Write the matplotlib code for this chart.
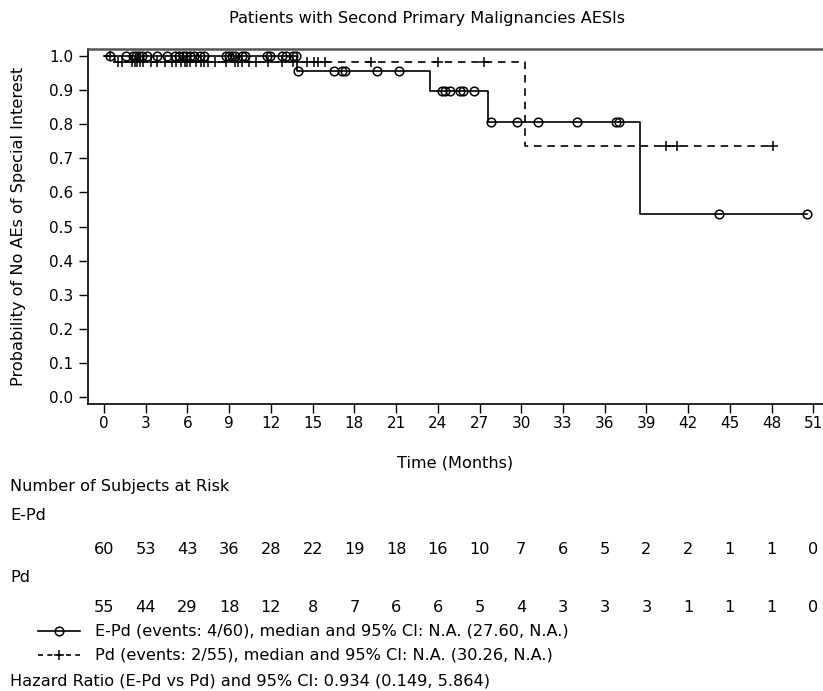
import numpy as np
import matplotlib
matplotlib.use('Agg')
import matplotlib.pyplot as plt
from matplotlib.lines import Line2D
from matplotlib.transforms import blended_transform_factory

# step curves (event times in months, survival after each event)
epd_event_t = [0, 13.86, 23.45, 27.60, 38.56]
epd_surv = [1.0, 0.956, 0.897, 0.807, 0.538]
epd_end = 50.55
epd_censor = [0.4, 1.6, 2.1, 2.3, 2.5, 2.7, 3.1, 3.8, 4.5, 5.1, 5.4, 5.7, 5.9, 6.2,
              6.5, 6.9, 7.2, 8.8, 9.0, 9.2, 9.4, 9.9, 10.1, 11.7, 11.9, 12.8, 13.1,
              13.6, 13.8, 13.95, 16.5, 17.1, 17.3, 19.6, 21.2, 24.3, 24.5, 24.9,
              25.6, 25.8, 26.6, 27.8, 29.7, 31.2, 34.0, 36.8, 37.0, 44.2, 50.55]

pd_event_t = [0, 0.8, 30.26]
pd_surv = [1.0, 0.982, 0.736]
pd_end = 48.1
pd_censor = [0.4, 1.0, 1.3, 2.0, 2.2, 2.4, 2.6, 2.8, 3.4, 3.8, 4.4, 4.9, 5.2, 5.5,
             5.8, 6.0, 6.2, 6.6, 7.0, 7.2, 7.5, 8.0, 8.8, 9.4, 9.6, 9.9, 10.4, 10.9,
             11.8, 12.8, 13.6, 14.6, 15.1, 15.4, 15.9, 19.2, 24.0, 27.3, 40.4, 41.2,
             48.1]

risk_times = list(range(0, 52, 3))
risk_epd = [60, 53, 43, 36, 28, 22, 19, 18, 16, 10, 7, 6, 5, 2, 2, 1, 1, 0]
risk_pd = [55, 44, 29, 18, 12, 8, 7, 6, 6, 5, 4, 3, 3, 3, 1, 1, 1, 0]

lab_epd = 'E-Pd (events: 4/60), median and 95% CI: N.A. (27.60, N.A.)'
lab_pd = 'Pd (events: 2/55), median and 95% CI: N.A. (30.26, N.A.)'
hr_text = 'Hazard Ratio (E-Pd vs Pd) and 95% CI: 0.934 (0.149, 5.864)'

plt.rcParams['font.family'] = 'DejaVu Sans'
fs = 11.6
W, H = 823, 691


def step_xy(t, s, end):
    x = list(t) + [end]
    y = list(s) + [s[-1]]
    return x, y


def surv_at(t, ev, s):
    idx = np.searchsorted(ev, t, side='right') - 1
    return np.array(s)[idx]


def fy(py):
    # pixel row -> figure fraction
    return 1 - py / H


fig = plt.figure(figsize=(8.23, 6.91), dpi=100)
ax = fig.add_axes([0.107, 0.4153, 0.893, 0.5137])

x, y = step_xy(epd_event_t, epd_surv, epd_end)
ax.step(x, y, where='post', color='black', lw=1.2)
ax.plot(epd_censor, surv_at(epd_censor, epd_event_t, epd_surv), 'o', mfc='none',
        mec='black', ms=6.2, mew=1.1)

x, y = step_xy(pd_event_t, pd_surv, pd_end)
ax.step(x, y, where='post', color='black', lw=1.2, dashes=(4.5, 3.5))
ax.plot(pd_censor, surv_at(pd_censor, pd_event_t, pd_surv), '+', color='black',
        ms=7, mew=1.1)

ax.set_xlim(-1.15, 51.7)
ax.set_ylim(-0.0205, 1.0205)
ax.set_xticks(risk_times)
ax.set_yticks(np.arange(0, 1.01, 0.1))
ax.set_yticklabels(['%.1f' % v for v in np.arange(0, 1.01, 0.1)])
ax.tick_params(labelsize=11, length=6.5, width=1)
ax.tick_params(axis='x', pad=2)
ax.tick_params(axis='y', pad=4)
ax.spines['right'].set_visible(False)
ax.spines['top'].set_color('#555555')
ax.spines['top'].set_linewidth(1.8)
ax.spines['left'].set_linewidth(1.2)
ax.spines['bottom'].set_linewidth(1.2)

fig.text(427 / W, fy(18), 'Patients with Second Primary Malignancies AESIs',
         fontsize=fs, ha='center', va='center')
ax.set_xlabel('Time (Months)', fontsize=fs, labelpad=18)
ax.set_ylabel('Probability of No AEs of Special Interest', fontsize=fs, labelpad=17)

# risk table
tr = blended_transform_factory(ax.transData, fig.transFigure)
fig.text(0.012, fy(487), 'Number of Subjects at Risk', fontsize=fs, va='center')
fig.text(0.012, fy(516), 'E-Pd', fontsize=fs, va='center')
fig.text(0.012, fy(578), 'Pd', fontsize=fs, va='center')
for t, a, b in zip(risk_times, risk_epd, risk_pd):
    ax.text(t, fy(549), str(a), transform=tr, ha='center', va='center', fontsize=fs)
    ax.text(t, fy(607), str(b), transform=tr, ha='center', va='center', fontsize=fs)

# legend rows drawn by hand
x0, x1, xm = 38 / W, 80 / W, 59 / W
fig.add_artist(Line2D([x0, x1], [fy(631)] * 2, color='black', lw=1.2))
fig.add_artist(Line2D([xm], [fy(631)], marker='o', mfc='none', mec='black',
                      ms=6.2, mew=1.1))
fig.add_artist(Line2D([x0, x1], [fy(655)] * 2, color='black', lw=1.2,
                      dashes=(3, 2.6)))
fig.add_artist(Line2D([xm], [fy(655)], marker='+', color='black', ms=7, mew=1.1))
fig.text(95 / W, fy(631), lab_epd, fontsize=fs, va='center')
fig.text(95 / W, fy(655), lab_pd, fontsize=fs, va='center')
fig.text(0.012, fy(681), hr_text, fontsize=fs, va='center')

fig.savefig('out.png', dpi=100)
